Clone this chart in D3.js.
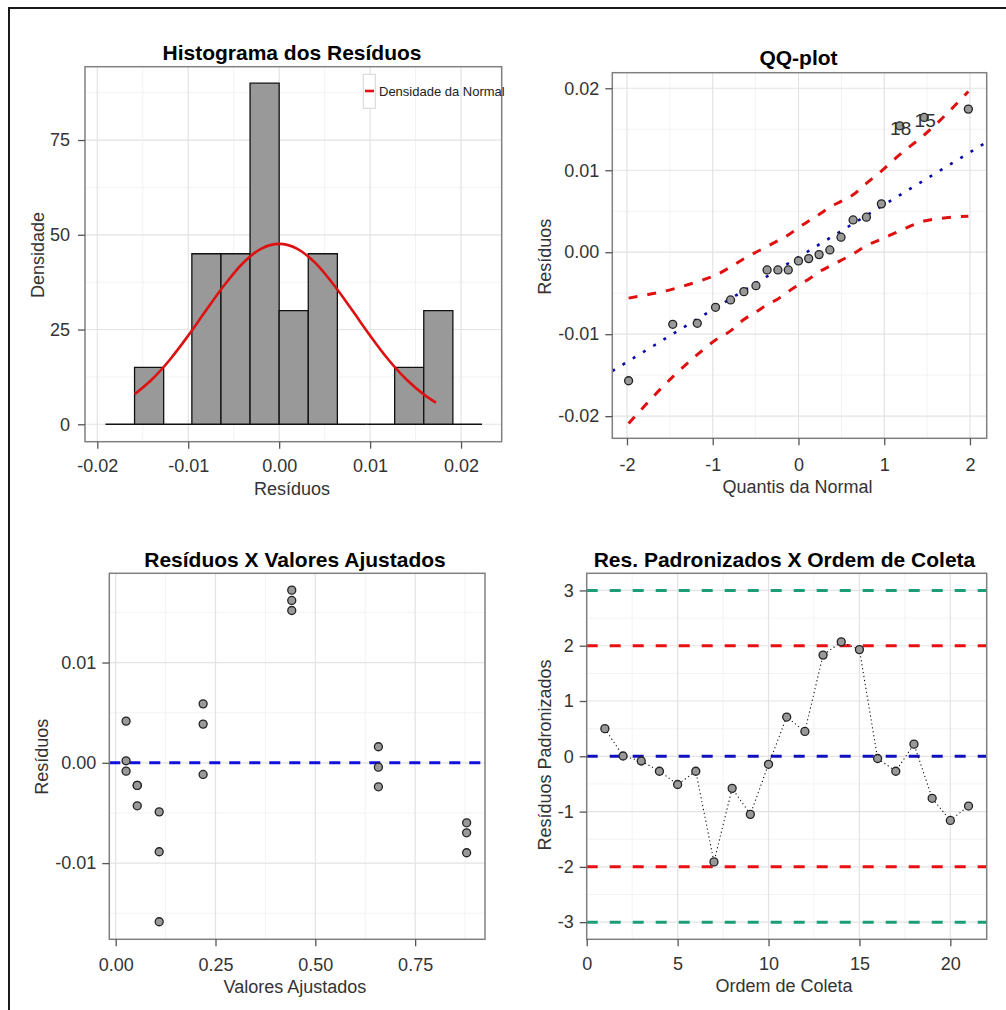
<!DOCTYPE html>
<html>
<head>
<meta charset="utf-8">
<script src="https://cdnjs.cloudflare.com/ajax/libs/d3/7.8.5/d3.min.js"></script>
<style>
body { margin: 0; background: #fff; }
svg { display: block; font-family: "Liberation Sans", Arial, sans-serif; }
</style>
</head>
<body>
<svg id="chart"></svg>
<script>
// ---------- dados ----------
// histograma (bordas das classes e densidade de cada classe)
var binEdges = [-0.0191, -0.0159, -0.0127, -0.0096, -0.0064, -0.0032, 0.0000,
                0.0032, 0.0064, 0.0096, 0.0127, 0.0159, 0.0191, 0.0223];
var histDensity = [0, 15, 0, 45, 45, 90, 30, 45, 0, 0, 15, 30, 0];
var histXTicks = [-0.02, -0.01, 0, 0.01, 0.02];
var histXLabels = ["-0.02", "-0.01", "0.00", "0.01", "0.02"];
var histYTicks = [0, 25, 50, 75];
var histYLabels = ["0", "25", "50", "75"];

// curva da densidade normal
var densX = [-0.0159, -0.014, -0.012, -0.010, -0.008, -0.006, -0.004, -0.002, 0,
             0.002, 0.004, 0.006, 0.008, 0.010, 0.012, 0.014, 0.016, 0.01725];
var densY = [7.9, 11.8, 17.1, 23.4, 30.2, 36.8, 42.5, 46.3, 47.6,
             46.3, 42.5, 36.8, 30.2, 23.4, 17.1, 11.8, 7.7, 5.7];

// QQ-plot
var qqTeorico = [-1.981, -1.466, -1.180, -0.967, -0.792, -0.637, -0.496, -0.366, -0.240, -0.119, 0,
                 0.119, 0.240, 0.366, 0.496, 0.637, 0.792, 0.967, 1.180, 1.466, 1.981];
var qqAmostral = [-0.01568, -0.00879, -0.00867, -0.00672, -0.00582, -0.00481, -0.00408, -0.00216, -0.00216, -0.00216, -0.00106,
                  -0.00078, -0.00029, 0.00028, 0.00183, 0.00394, 0.00427, 0.0059, 0.01542, 0.01644, 0.01746];
var qqSuperior = [-0.0056, -0.0045, -0.0036, -0.0028, -0.0018, -0.0008, 0.0000, 0.0007, 0.0014, 0.0021, 0.0030,
                  0.0038, 0.0046, 0.0055, 0.0062, 0.0070, 0.0084, 0.0099, 0.0119, 0.0143, 0.0196];
var qqInferior = [-0.0209, -0.0152, -0.0125, -0.0107, -0.0096, -0.0082, -0.0073, -0.0064, -0.0057, -0.0048, -0.0040,
                  -0.0033, -0.0024, -0.0017, -0.0010, -0.0002, 0.0008, 0.0016, 0.0026, 0.0038, 0.0044];
var qqRetaIntercepto = -0.0006, qqRetaInclinacao = 0.0064;
var qqRotulos = [{ idx: 18, text: "18" }, { idx: 19, text: "15" }];
var qqXTicks = [-2, -1, 0, 1, 2];
var qqXLabels = ["-2", "-1", "0", "1", "2"];
var qqYTicks = [-0.02, -0.01, 0, 0.01, 0.02];
var qqYLabels = ["-0.02", "-0.01", "0.00", "0.01", "0.02"];

// residuos x valores ajustados
var ajustados = [0.026, 0.026, 0.026, 0.054, 0.054, 0.054, 0.109, 0.109, 0.109, 0.219, 0.219,
                 0.219, 0.441, 0.441, 0.441, 0.658, 0.658, 0.658, 0.879, 0.879, 0.879];
var residuosAj = [0.00416, 0.0002, -0.00083, -0.00225, -0.00225, -0.00429, -0.00489, -0.00887, -0.01585, 0.00588, 0.00386,
                  -0.00116, 0.01722, 0.01619, 0.01519, 0.0016, -0.00043, -0.00239, -0.00598, -0.00698, -0.00897];
var ajXTicks = [0, 0.25, 0.5, 0.75];
var ajXLabels = ["0.00", "0.25", "0.50", "0.75"];
var ajYTicks = [-0.01, 0, 0.01];
var ajYLabels = ["-0.01", "0.00", "0.01"];

// residuos padronizados x ordem de coleta
var ordem = [1, 2, 3, 4, 5, 6, 7, 8, 9, 10, 11, 12, 13, 14, 15, 16, 17, 18, 19, 20, 21];
var padronizados = [0.50, 0.005, -0.085, -0.27, -0.51, -0.27, -1.91, -0.58, -1.05, -0.145, 0.71,
                    0.45, 1.83, 2.07, 1.93, -0.04, -0.27, 0.22, -0.76, -1.16, -0.90];
var limites = [3, 2, 0, -2, -3];
var ordXTicks = [0, 5, 10, 15, 20];
var ordYTicks = [-3, -2, -1, 0, 1, 2, 3];

// ---------- desenho ----------
var w = 1006, h = 1010;
var svg = d3.select("#chart").attr("width", w).attr("height", h);

// moldura (apenas esquerda e topo)
svg.append("path")
    .attr("d", "M9," + h + "V8H" + w)
    .attr("fill", "none")
    .attr("stroke", "#1a1a1a")
    .attr("stroke-width", 2);

function midpoints(ticks) {
    var step = ticks[1] - ticks[0], out = [];
    for (var i = -1; i < ticks.length; i++) out.push(ticks[0] + (i + 0.5) * step);
    return out;
}

var painel = function(cfg) {
    var x = d3.scaleLinear().domain(cfg.xDom).range([cfg.left, cfg.right]);
    var y = d3.scaleLinear().domain(cfg.yDom).range([cfg.bottom, cfg.top]);
    var g = svg.append("g");

    g.append("rect")
        .attr("x", cfg.left).attr("y", cfg.top)
        .attr("width", cfg.right - cfg.left).attr("height", cfg.bottom - cfg.top)
        .attr("fill", "#fff");

    var inX = function(v) { return v > cfg.xDom[0] && v < cfg.xDom[1]; };
    var inY = function(v) { return v > cfg.yDom[0] && v < cfg.yDom[1]; };

    // grade menor
    g.selectAll(".minx").data(midpoints(cfg.xTicks).filter(inX)).enter().append("line")
        .attr("x1", x).attr("x2", x).attr("y1", cfg.top).attr("y2", cfg.bottom)
        .attr("stroke", "#f3f3f3").attr("stroke-width", 1);
    g.selectAll(".miny").data(midpoints(cfg.yTicks).filter(inY)).enter().append("line")
        .attr("y1", y).attr("y2", y).attr("x1", cfg.left).attr("x2", cfg.right)
        .attr("stroke", "#f3f3f3").attr("stroke-width", 1);
    // grade maior
    g.selectAll(".majx").data(cfg.xTicks.filter(inX)).enter().append("line")
        .attr("x1", x).attr("x2", x).attr("y1", cfg.top).attr("y2", cfg.bottom)
        .attr("stroke", "#e3e3e3").attr("stroke-width", 1.2);
    g.selectAll(".majy").data(cfg.yTicks.filter(inY)).enter().append("line")
        .attr("y1", y).attr("y2", y).attr("x1", cfg.left).attr("x2", cfg.right)
        .attr("stroke", "#e3e3e3").attr("stroke-width", 1.2);

    var marks = svg.append("g");
    var top = svg.append("g");

    top.append("rect")
        .attr("x", cfg.left).attr("y", cfg.top)
        .attr("width", cfg.right - cfg.left).attr("height", cfg.bottom - cfg.top)
        .attr("fill", "none").attr("stroke", "#808080").attr("stroke-width", 1.5);

    var xAxis = d3.axisBottom(x).tickValues(cfg.xTicks)
        .tickFormat(function(d, i) { return cfg.xLabels[i]; })
        .tickSize(7).tickSizeOuter(0).tickPadding(cfg.xPad || 11);
    var yAxis = d3.axisLeft(y).tickValues(cfg.yTicks)
        .tickFormat(function(d, i) { return cfg.yLabels[i]; })
        .tickSize(7).tickSizeOuter(0).tickPadding(cfg.yPad || 6);

    var ax = top.append("g").attr("transform", "translate(0," + cfg.bottom + ")").call(xAxis);
    var ay = top.append("g").attr("transform", "translate(" + cfg.left + ",0)").call(yAxis);
    [ax, ay].forEach(function(a) {
        a.select(".domain").remove();
        a.selectAll(".tick line").attr("stroke", "#555").attr("stroke-width", 1.3);
        a.selectAll(".tick text").attr("fill", "#333").attr("font-size", 18)
            .attr("font-family", "Liberation Sans, Arial, sans-serif");
    });

    top.append("text")
        .attr("x", cfg.titleX).attr("y", cfg.titleY)
        .attr("text-anchor", "middle").attr("font-weight", "bold")
        .attr("font-size", 21).attr("fill", "#000")
        .text(cfg.title);
    top.append("text")
        .attr("x", cfg.xTitleX).attr("y", cfg.xTitleY)
        .attr("text-anchor", "middle").attr("font-size", 18).attr("fill", "#333")
        .text(cfg.xTitle);
    top.append("text")
        .attr("transform", "translate(" + cfg.yTitleX + "," + cfg.yTitleY + ") rotate(-90)")
        .attr("text-anchor", "middle").attr("font-size", 18).attr("fill", "#333")
        .text(cfg.yTitle);

    return { x: x, y: y, marks: marks, top: top };
};

// ==================== Histograma ====================
var p1 = painel({
    left: 85, top: 66.7, right: 501.7, bottom: 441.7,
    xDom: [-0.02135, 0.02447], yDom: [-4.6, 94.35],
    xTicks: histXTicks, xLabels: histXLabels, yTicks: histYTicks, yLabels: histYLabels,
    yPad: 8,
    title: "Histograma dos Resíduos", titleX: 292, titleY: 60,
    xTitle: "Resíduos", xTitleX: 292, xTitleY: 495,
    yTitle: "Densidade", yTitleX: 44, yTitleY: 255
});

// cada classe como caminho fechado (classes vazias aparecem como linha na base)
var bins = histDensity.map(function(d, i) { return { x0: binEdges[i], x1: binEdges[i + 1], d: d }; });
p1.marks.selectAll(".bar").data(bins).enter().append("path")
    .attr("d", function(b) {
        var xa = p1.x(b.x0), xb = p1.x(b.x1), y0 = p1.y(0), y1 = p1.y(b.d);
        return "M" + xa + "," + y0 + "V" + y1 + "H" + xb + "V" + y0 + "Z";
    })
    .attr("fill", "#999999")
    .attr("stroke", "#111")
    .attr("stroke-width", 1.3);

var densLine = d3.line()
    .x(function(d, i) { return p1.x(densX[i]); })
    .y(function(d, i) { return p1.y(densY[i]); })
    .curve(d3.curveMonotoneX);
p1.marks.append("path")
    .datum(densX)
    .attr("d", densLine)
    .attr("fill", "none")
    .attr("stroke", "#dd1111")
    .attr("stroke-width", 2.6);

// legenda
var leg = p1.top.append("g");
leg.append("rect")
    .attr("x", 363.3).attr("y", 74.3).attr("width", 12).attr("height", 34)
    .attr("fill", "#fff").attr("stroke", "#d5d5d5").attr("stroke-width", 1);
leg.append("line")
    .attr("x1", 365).attr("x2", 374).attr("y1", 91).attr("y2", 91)
    .attr("stroke", "#dd1111").attr("stroke-width", 2.6);
leg.append("text")
    .attr("x", 379).attr("y", 95.5)
    .attr("font-size", 13).attr("fill", "#222")
    .text("Densidade da Normal");

// ==================== QQ-plot ====================
var p2 = painel({
    left: 612.3, top: 72.7, right: 986.7, bottom: 438.3,
    xDom: [-2.171, 2.195], yDom: [-0.0227, 0.0219],
    xTicks: qqXTicks, xLabels: qqXLabels, yTicks: qqYTicks, yLabels: qqYLabels,
    xPad: 13,
    title: "QQ-plot", titleX: 798.5, titleY: 65,
    xTitle: "Quantis da Normal", xTitleX: 797.5, xTitleY: 493,
    yTitle: "Resíduos", yTitleX: 551, yTitleY: 256.7
});

var qqX = p2.x.domain();
p2.marks.append("line")
    .attr("x1", p2.x(qqX[0])).attr("y1", p2.y(qqRetaIntercepto + qqRetaInclinacao * qqX[0]))
    .attr("x2", p2.x(qqX[1])).attr("y2", p2.y(qqRetaIntercepto + qqRetaInclinacao * qqX[1]))
    .attr("stroke", "#0a0aa8").attr("stroke-width", 2.6)
    .attr("stroke-dasharray", "3,9");

[qqSuperior, qqInferior].forEach(function(band) {
    p2.marks.append("path")
        .datum(band)
        .attr("d", d3.line()
            .x(function(d, i) { return p2.x(qqTeorico[i]); })
            .y(function(d) { return p2.y(d); })
            .curve(d3.curveMonotoneX))
        .attr("fill", "none")
        .attr("stroke", "#e01010").attr("stroke-width", 3)
        .attr("stroke-dasharray", "9,10");
});

p2.marks.selectAll("circle").data(qqAmostral).enter().append("circle")
    .attr("cx", function(d, i) { return p2.x(qqTeorico[i]); })
    .attr("cy", function(d) { return p2.y(d); })
    .attr("r", 4)
    .attr("fill", "#999").attr("stroke", "#222").attr("stroke-width", 1.3);

p2.marks.selectAll(".rot").data(qqRotulos).enter().append("text")
    .attr("x", function(d) { return p2.x(qqTeorico[d.idx]) + 1; })
    .attr("y", function(d) { return p2.y(qqAmostral[d.idx]) + 3; })
    .attr("text-anchor", "middle").attr("dominant-baseline", "central")
    .attr("font-size", 19).attr("fill", "#333")
    .text(function(d) { return d.text; });

// ==================== Residuos x Valores Ajustados ====================
var p3 = painel({
    left: 109.3, top: 573.3, right: 485, bottom: 939.3,
    xDom: [-0.016, 0.925], yDom: [-0.0176, 0.0189],
    xTicks: ajXTicks, xLabels: ajXLabels, yTicks: ajYTicks, yLabels: ajYLabels,
    xPad: 12,
    title: "Resíduos X Valores Ajustados", titleX: 295, titleY: 566.7,
    xTitle: "Valores Ajustados", xTitleX: 295, xTitleY: 992.7,
    yTitle: "Resíduos", yTitleX: 48, yTitleY: 756.7
});

p3.marks.append("line")
    .attr("x1", p3.x.range()[0]).attr("x2", p3.x.range()[1])
    .attr("y1", p3.y(0)).attr("y2", p3.y(0))
    .attr("stroke", "#1010e0").attr("stroke-width", 3)
    .attr("stroke-dasharray", "11,9");

p3.marks.selectAll("circle").data(residuosAj).enter().append("circle")
    .attr("cx", function(d, i) { return p3.x(ajustados[i]); })
    .attr("cy", function(d) { return p3.y(d); })
    .attr("r", 4)
    .attr("fill", "#999").attr("stroke", "#222").attr("stroke-width", 1.3);

// ==================== Res. Padronizados x Ordem ====================
var p4 = painel({
    left: 586.7, top: 573.3, right: 986.7, bottom: 939.3,
    xDom: [0, 22], yDom: [-3.31, 3.31],
    xTicks: ordXTicks, xLabels: ordXTicks.map(String),
    yTicks: ordYTicks, yLabels: ordYTicks.map(String),
    xPad: 11,
    title: "Res. Padronizados X Ordem de Coleta", titleX: 784.5, titleY: 566.7,
    xTitle: "Ordem de Coleta", xTitleX: 784, xTitleY: 991.7,
    yTitle: "Resíduos Padronizados", yTitleX: 551, yTitleY: 755
});

var corLimite = function(v) {
    if (Math.abs(v) === 3) return "#1b9e77";
    if (Math.abs(v) === 2) return "#e81010";
    return "#1010c0";
};
p4.marks.selectAll(".lim").data(limites).enter().append("line")
    .attr("x1", p4.x.range()[0]).attr("x2", p4.x.range()[1])
    .attr("y1", p4.y).attr("y2", p4.y)
    .attr("stroke", corLimite).attr("stroke-width", 3)
    .attr("stroke-dasharray", "11,12");

p4.marks.append("path")
    .datum(padronizados)
    .attr("d", d3.line()
        .x(function(d, i) { return p4.x(ordem[i]); })
        .y(function(d) { return p4.y(d); }))
    .attr("fill", "none")
    .attr("stroke", "#111").attr("stroke-width", 1.1)
    .attr("stroke-dasharray", "1.2,2.8");

p4.marks.selectAll("circle").data(padronizados).enter().append("circle")
    .attr("cx", function(d, i) { return p4.x(ordem[i]); })
    .attr("cy", function(d) { return p4.y(d); })
    .attr("r", 4)
    .attr("fill", "#999").attr("stroke", "#222").attr("stroke-width", 1.3);
</script>
</body>
</html>
